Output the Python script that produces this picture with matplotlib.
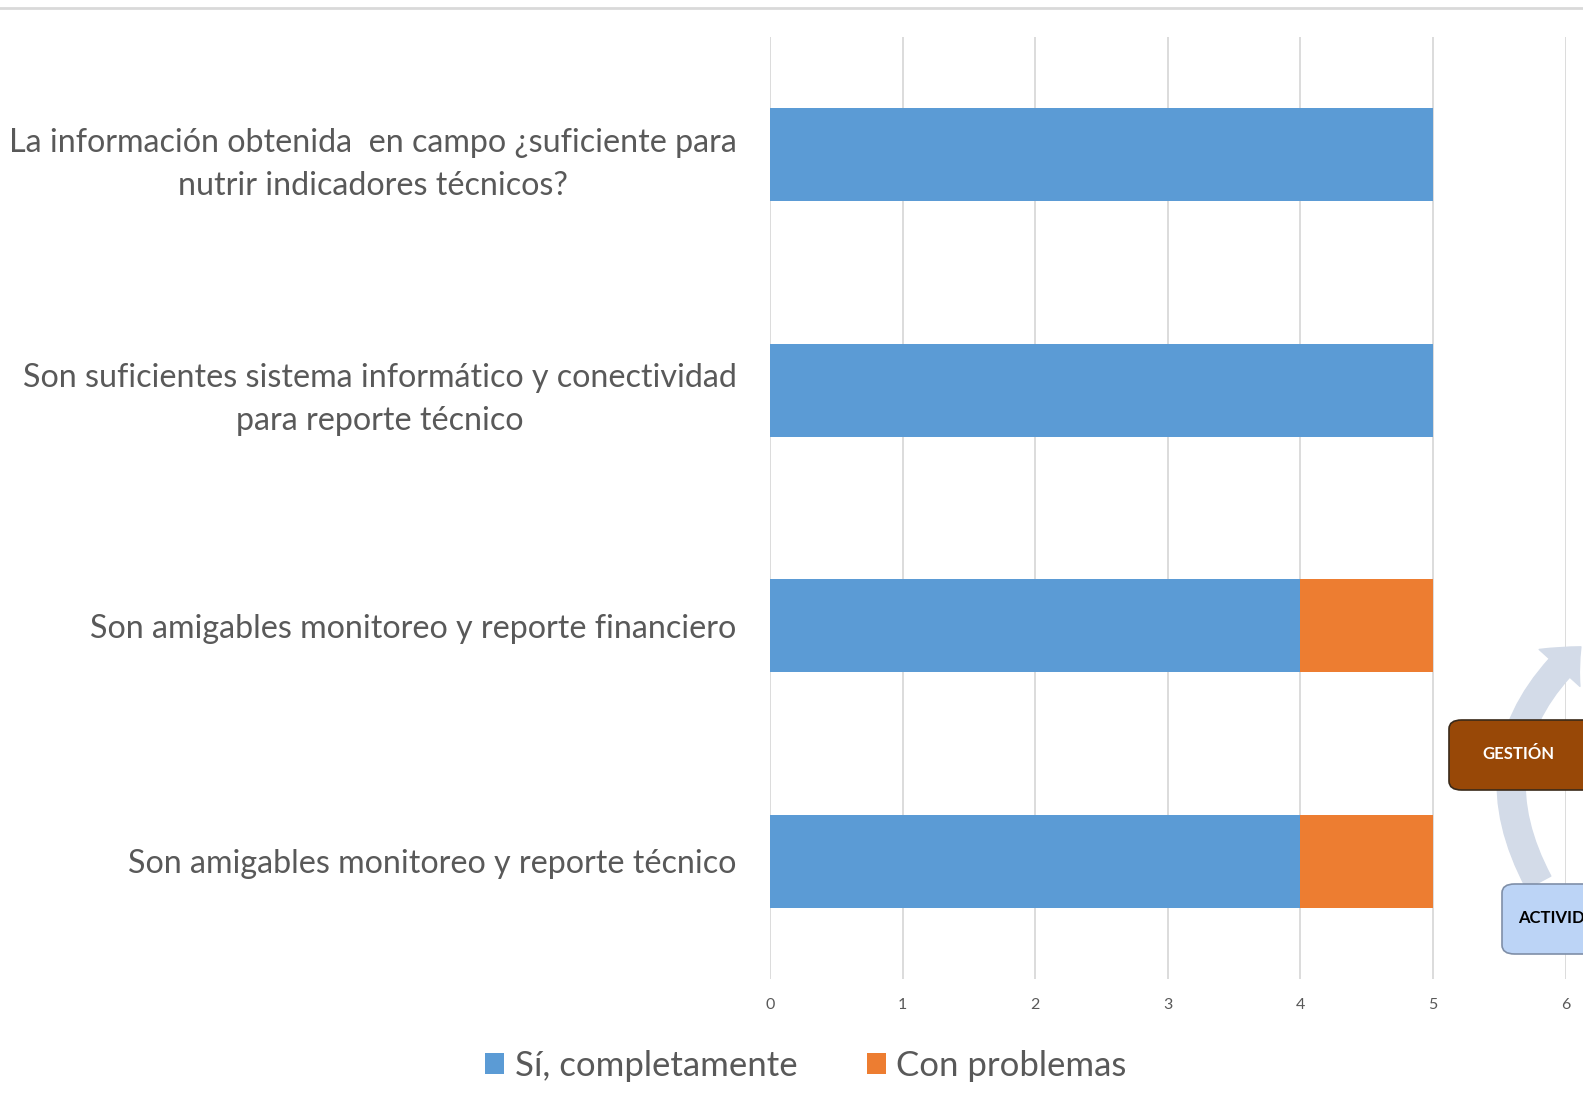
import matplotlib.pyplot as plt
from matplotlib.patches import FancyBboxPatch, FancyArrowPatch
import numpy as np

# Datos
preguntas = [
    "La información obtenida  en campo ¿suficiente para\nnutrir indicadores técnicos?",
    "Son suficientes sistema informático y conectividad\npara reporte técnico",
    "Son amigables monitoreo y reporte financiero",
    "Son amigables monitoreo y reporte técnico",
]
si_completamente = [5, 5, 4, 4]
con_problemas = [0, 0, 1, 1]
ticks_x = [0, 1, 2, 3, 4, 5, 6]

azul = '#5b9bd5'
naranja = '#ed7d31'
gris = '#595959'

plt.rcParams['font.family'] = ['Lato', 'DejaVu Sans']

fig = plt.figure(figsize=(15.83, 11.07), dpi=100)
ax = fig.add_axes([0.4864, 0.1156, 0.989 - 0.4864, 0.9666 - 0.1156])

y = np.arange(len(preguntas))
ax.barh(y, si_completamente, height=0.395, color=azul, label='Sí, completamente', zorder=3)
ax.barh(y, con_problemas, left=si_completamente, height=0.395, color=naranja,
        label='Con problemas', zorder=3)

ax.set_ylim(3.5, -0.5)
ax.set_xlim(0, 6)
ax.set_xticks(ticks_x)
ax.set_yticks(y)
ax.set_yticklabels(preguntas, fontsize=23.2, color=gris, ha='right',
                   multialignment='center', linespacing=1.55)
ax.tick_params(axis='y', length=0, pad=24)
ax.tick_params(axis='x', length=0, labelsize=11.5, labelcolor=gris, pad=14)
ax.grid(axis='x', color='#d9d9d9', linewidth=1.3, zorder=0)
for s in ax.spines.values():
    s.set_visible(False)

# Leyenda
ley = ax.legend(loc='upper center', bbox_to_anchor=(0.045, -0.042), ncol=2, frameon=False,
                fontsize=25, handlelength=0.55, handleheight=0.55, handletextpad=0.3,
                columnspacing=2.0)
for t in ley.get_texts():
    t.set_color(gris)

# linea superior
fig.add_artist(plt.Line2D([0, 1], [0.9925, 0.9925], color='#d9d9d9', linewidth=2))

# diagrama superpuesto (recorte de la diapositiva)
flecha = FancyArrowPatch((1540 / 1583, 1 - 885 / 1107), (1583 / 1583, 1 - 645 / 1107),
                         connectionstyle='arc3,rad=-0.4',
                         arrowstyle='simple,head_width=2.2,head_length=1.2,tail_width=1.1',
                         mutation_scale=18, color='#d3dbe8', transform=fig.transFigure, zorder=4)
fig.add_artist(flecha)
caja1 = FancyBboxPatch((1449 / 1583, 1 - 790 / 1107), 160 / 1583, 70 / 1107,
                       boxstyle='round,pad=0,rounding_size=0.008', facecolor='#984807',
                       edgecolor='#3a2a1a', linewidth=1.2, transform=fig.transFigure, zorder=5)
fig.add_artist(caja1)
fig.text(1518 / 1583, 1 - 754 / 1107, 'GESTIÓN', color='white', fontsize=12, fontweight='bold',
         ha='center', va='center', zorder=6)
caja2 = FancyBboxPatch((1502 / 1583, 1 - 954 / 1107), 120 / 1583, 70 / 1107,
                       boxstyle='round,pad=0,rounding_size=0.008', facecolor='#bcd4f6',
                       edgecolor='#7f8fa8', linewidth=1.2, transform=fig.transFigure, zorder=5)
fig.add_artist(caja2)
fig.text(1518 / 1583, 1 - 918 / 1107, 'ACTIVIDA', color='black', fontsize=12, fontweight='bold',
         ha='left', va='center', zorder=6)

fig.savefig('out.png', dpi=100, facecolor='white')
